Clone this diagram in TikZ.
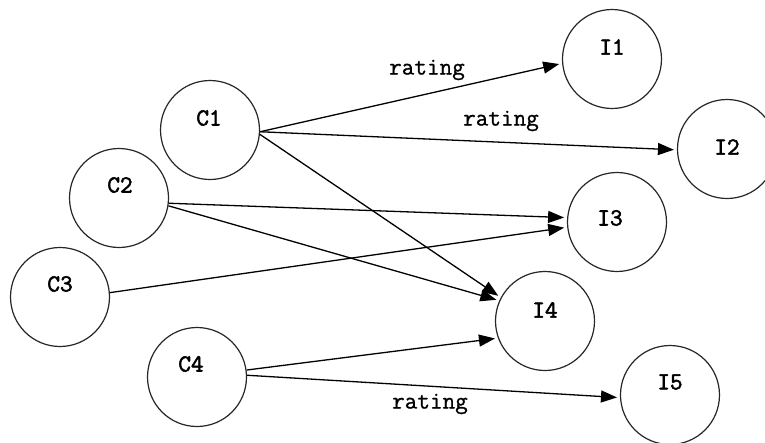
\documentclass[tikz,border=0pt]{standalone}
\usepackage{fontspec}
\newfontfamily\labmono{Latin Modern Mono}[FakeBold=2.2]
\newfontfamily\relmono{Latin Modern Mono}[FakeBold=0.9]
\usetikzlibrary{arrows.meta}
\begin{document}
\begin{tikzpicture}[x=1pt,y=-1pt,
  circ/.style={draw=black!85,line width=1.2pt,circle,minimum size=99pt,inner sep=0pt},
  lab/.style={font=\labmono\fontsize{24.5}{24.5}\selectfont,inner sep=0pt},
  rlab/.style={font=\relmono\fontsize{24.5}{24.5}\selectfont,inner sep=0pt},
  arr/.style={line width=1.3pt,-{Triangle[length=16pt,width=12pt]},shorten >=3pt}]
\useasboundingbox (0,0) rectangle (765,442);
% C nodes
\node[circ] (C1) at (210,130) {};
\node[circ] (C2) at (119,198) {};
\node[circ] (C3) at (60,297) {};
\node[circ] (C4) at (197,377) {};
% I nodes
\node[circ] (I1) at (612,59) {};
\node[circ] (I2) at (727,149) {};
\node[circ] (I3) at (617,222) {};
\node[circ] (I4) at (545,321) {};
\node[circ] (I5) at (670,395) {};
% labels
\node[lab] (tC1) at (209,118) {C1};
\node[lab] (tC2) at (120,185) {C2};
\node[lab] (tC3) at (60,284) {C3};
\node[lab] (tC4) at (191,364) {C4};
\node[lab] (tI1) at (612,47) {I1};
\node[lab] (tI2) at (727,147) {I2};
\node[lab] (tI3) at (610,218) {I3};
\node[lab] (tI4) at (545,310) {I4};
\node[lab] (tI5) at (670,382) {I5};
% edges
\draw[arr] (C1.-2) -- (I1.185);
\draw[arr] (C1.-2) -- (I2.181);
\draw[arr] (C1.-5) -- (I4.152);
\draw[arr] (C2.-6) -- (I3.175);
\draw[arr] (C2.-9) -- (I4.156);
\draw[arr] (C3.5) -- (I3.186);
\draw[arr] (C4.8) -- (I4.200);
\draw[arr] (C4.2) -- (I5.183);
% edge labels
\node[rlab] (r1) at (427,70) {rating};
\node[rlab] (r2) at (501,121) {rating};
\node[rlab] (r3) at (430,404) {rating};
\end{tikzpicture}
\end{document}
